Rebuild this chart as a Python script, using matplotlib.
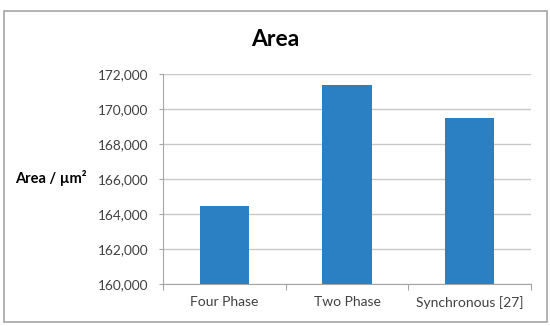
import matplotlib.pyplot as plt
from matplotlib.patches import Rectangle
from matplotlib.ticker import FuncFormatter

plt.rcParams['font.family'] = ['Lato', 'DejaVu Sans']

# data
categories = ['Four Phase', 'Two Phase', 'Synchronous [27]']
area_values = [164440, 171380, 169500]
y_ticks = [160000, 162000, 164000, 166000, 168000, 170000, 172000]

fig = plt.figure(figsize=(5.5, 3.26), dpi=100)
# outer chart frame
fig.patches.append(Rectangle((4 / 550, 1 - 322 / 326), 543 / 550, 311 / 326,
                             transform=fig.transFigure, fill=False,
                             edgecolor='#a6a6a6', linewidth=1.2))

ax = fig.add_axes([163 / 550, 1 - 284 / 326, 368 / 550, 210 / 326])
x = range(len(categories))
ax.bar(x, area_values, width=0.4, color='#2a80c2', zorder=3)

ax.set_xlim(-0.5, len(categories) - 0.5)
ax.set_ylim(y_ticks[0], y_ticks[-1])
ax.set_yticks(y_ticks)
ax.yaxis.set_major_formatter(FuncFormatter(lambda v, p: f'{int(v):,}'))
ax.set_xticks(list(x))
ax.set_xticklabels(categories)
ax.tick_params(axis='x', length=0, labelsize=10, pad=9, colors='#404040')
ax.tick_params(axis='y', length=3, width=0.8, color='#a6a6a6',
               labelsize=9.8, pad=7.5, labelcolor='#404040')
# category separator ticks
ax.set_xticks([-0.5, 0.5, 1.5, 2.5], minor=True)
ax.tick_params(axis='x', which='minor', length=4, width=0.8, color='#a6a6a6')

ax.grid(axis='y', color='#c8c8c8', linewidth=1, zorder=0)
for side in ['top', 'right']:
    ax.spines[side].set_visible(False)
ax.spines['left'].set_color('#a6a6a6')
ax.spines['bottom'].set_color('#a6a6a6')

fig.text(275 / 550, 1 - 39.5 / 326, 'Area', ha='center', va='center',
         fontsize=16.5, fontweight='bold')
fig.text(51 / 550, 1 - 178 / 326, 'Area / µm²', ha='center', va='center',
         fontsize=10.5, fontweight='bold')

fig.savefig('out.png', dpi=100)
